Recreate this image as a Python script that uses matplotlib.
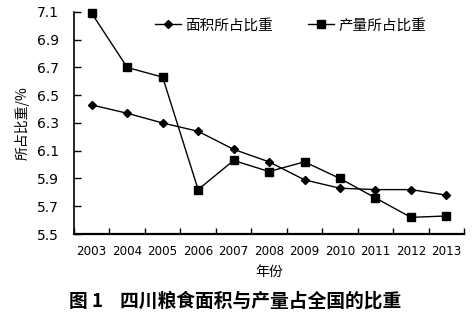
import matplotlib
matplotlib.use("Agg")
import matplotlib.pyplot as plt
import numpy as np

plt.rcParams['font.family'] = ['Noto Sans CJK SC', 'DejaVu Sans']

years = ["2003", "2004", "2005", "2006", "2007", "2008", "2009", "2010", "2011", "2012", "2013"]
area_share = [6.43, 6.37, 6.30, 6.24, 6.11, 6.02, 5.89, 5.83, 5.82, 5.82, 5.78]
output_share = [7.09, 6.70, 6.63, 5.82, 6.03, 5.95, 6.02, 5.90, 5.76, 5.62, 5.63]
y_ticks = [5.5, 5.7, 5.9, 6.1, 6.3, 6.5, 6.7, 6.9, 7.1]

fig = plt.figure(figsize=(4.76, 3.23), dpi=100)
ax = fig.add_axes([0.1555, 0.2755, 0.8195, 0.6875])

x = np.arange(len(years))
ax.plot(x, area_share, color='black', lw=1.0, marker='D', ms=4.5,
        label='面积所占比重', clip_on=False, zorder=3)
ax.plot(x, output_share, color='black', lw=1.0, marker='s', ms=6,
        label='产量所占比重', clip_on=False, zorder=3)

ax.set_xlim(-0.5, len(years) - 0.5)
ax.set_ylim(5.5, 7.1)
ax.set_yticks(y_ticks)
ax.set_yticklabels([f"{v:.1f}" for v in y_ticks], fontsize=10, family='DejaVu Sans')
ax.set_xticks(x)
ax.set_xticklabels(years, fontsize=8.6, family='DejaVu Sans')
ax.tick_params(axis='x', which='major', length=0, pad=8)
ax.set_xticks(np.arange(-0.5, len(years)), minor=True)
ax.tick_params(axis='x', which='minor', direction='in', length=4, width=1)
ax.tick_params(axis='y', direction='in', length=5, width=1, pad=11)

for side in ('top', 'right'):
    ax.spines[side].set_visible(False)
ax.spines['left'].set_linewidth(1.2)
ax.spines['bottom'].set_linewidth(1.6)

ax.set_ylabel('所占比重/%', fontsize=10, labelpad=5)
ax.set_xlabel('年份', fontsize=10, labelpad=5)

ax.legend(loc='upper center', bbox_to_anchor=(0.555, 1.03), ncol=2, frameon=False,
          fontsize=10.5, handlelength=1.8, columnspacing=2.4, handletextpad=0.3)

fig.text(0.495, 0.068, '图 1    四川粮食面积与产量占全国的比重', ha='center', va='center',
         fontsize=13.5, fontweight='bold')

fig.savefig('out.png', dpi=100)
